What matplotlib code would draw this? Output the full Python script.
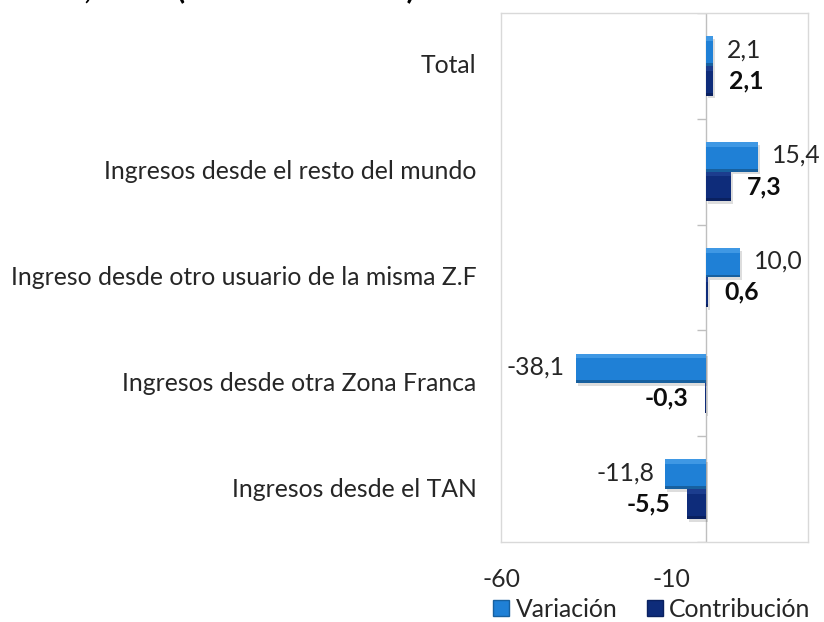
import matplotlib
matplotlib.use("Agg")
import matplotlib.pyplot as plt
import matplotlib.patheffects as pe
from matplotlib.patches import Patch
from matplotlib.transforms import blended_transform_factory
import numpy as np

plt.rcParams['font.family'] = ['Lato', 'DejaVu Sans']

categories = ["Total",
              "Ingresos desde el resto del mundo",
              "Ingreso desde otro usuario de la misma Z.F",
              "Ingresos desde otra Zona Franca",
              "Ingresos desde el TAN"]
variacion = [2.1, 15.4, 10.0, -38.1, -11.8]
contribucion = [2.1, 7.3, 0.6, -0.3, -5.5]
series_names = ["Variación", "Contribución"]
xticks = [-60, -10]

W, H = 824, 622
FS = 17.8
fig = plt.figure(figsize=(W / 100, H / 100), dpi=100)
ax = fig.add_axes([501 / W, (H - 542) / H, 307 / W, 529 / H])

pos = np.arange(len(categories))
bh = 0.28
off = 0.14

var_cols = ('#1F80D6', '#3F98E4', '#17609F')
con_cols = ('#0E2C7A', '#1C3D8E', '#0A2160')

shadow = [pe.SimplePatchShadow(offset=(1.5, -2), alpha=0.18, shadow_rgbFace='#444444'), pe.Normal()]

def draw_series(vals, ypos, cols):
    main = ax.barh(ypos, vals, height=bh, color=cols[0], zorder=3)
    for b in main:
        b.set_path_effects(shadow)
    # bevel highlights
    ax.barh(ypos - bh * 0.42, vals, height=bh * 0.16, color=cols[1], zorder=4)
    ax.barh(ypos + bh * 0.45, vals, height=bh * 0.10, color=cols[2], zorder=4)
    return main

bars_v = draw_series(variacion, pos - off, var_cols)
bars_c = draw_series(contribucion, pos + off, con_cols)

ax.set_xlim(-60, 30)
ax.set_ylim(len(categories) - 0.5, -0.5)

# zero line and category boundary ticks
ax.axvline(0, color='#BFBFBF', lw=1.0, zorder=2)
bounds = np.arange(len(categories) + 1) - 0.5
ax.hlines(bounds, -2.4, 0, color='#BFBFBF', lw=1.0, zorder=2)

for s in ax.spines.values():
    s.set_color('#D9D9D9')
    s.set_linewidth(1.0)

ax.set_yticks([])
ax.set_xticks(xticks)
ax.set_xticklabels([str(t) for t in xticks], fontsize=FS, color='#262626')
ax.tick_params(axis='x', length=0, pad=19)

trans = blended_transform_factory(ax.transAxes, ax.transData)
for p, c in zip(pos, categories):
    ax.text(-0.08, p, c, transform=trans, ha='right', va='center', fontsize=FS, color='#262626')

def fmt(v):
    return f"{v:.1f}".replace('.', ',')

for v, y in zip(variacion, pos - off):
    ax.annotate(fmt(v), (v, y), xytext=(10 if v >= 0 else -8, 1), textcoords='offset points',
                ha='left' if v >= 0 else 'right', va='center', fontsize=FS, color='#262626', zorder=5)
for v, y in zip(contribucion, pos + off):
    ax.annotate(fmt(v), (v, y), xytext=(12 if v >= 0 else -12, 0), textcoords='offset points',
                ha='left' if v >= 0 else 'right', va='center', fontsize=FS, fontweight='bold',
                color='#0D0D0D', zorder=5)

handles = [Patch(facecolor=var_cols[0], edgecolor=var_cols[2]),
           Patch(facecolor=con_cols[0], edgecolor=con_cols[2])]
fig.legend(handles, series_names, loc='lower center', bbox_to_anchor=(652 / W, -0.014),
           ncol=2, frameon=False, fontsize=FS, handlelength=0.65, handleheight=0.65,
           handletextpad=0.25, columnspacing=1.2, borderaxespad=0, labelcolor='#262626')

# partially visible title at the top (cropped in the original)
fig.text(415 / W, 1 + 2 / H, "Total nacional, 2015 (Miles de dólares)", ha='right',
         va='baseline', fontsize=22, fontweight='bold', color='#000000')

fig.savefig("out.png", dpi=100)
